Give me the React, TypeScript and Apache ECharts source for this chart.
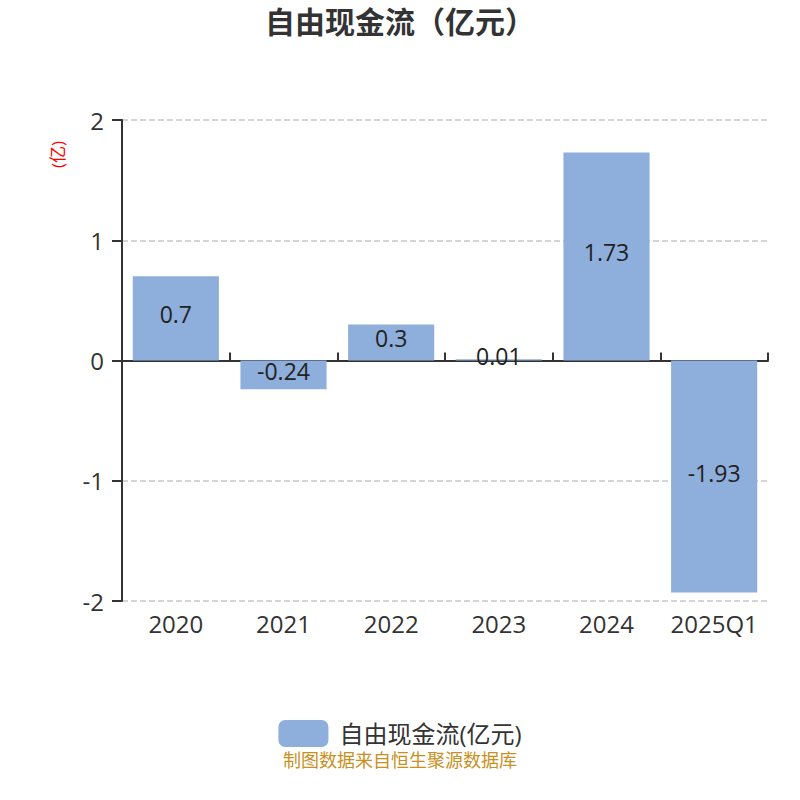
import React, { useEffect, useRef } from "react";
import * as echarts from "echarts";

const categories = ["2020", "2021", "2022", "2023", "2024", "2025Q1"];
const values = [0.7, -0.24, 0.3, 0.01, 1.73, -1.93];
const seriesName = "自由现金流(亿元)";
const titleText = "自由现金流（亿元）";
const unitText = "(亿)";
const footerText = "制图数据来自恒生聚源数据库";

export default function App() {
  const ref = useRef<HTMLDivElement>(null);
  useEffect(() => {
    if (!ref.current) return;
    const chart = echarts.init(ref.current, null, { renderer: "svg" });
    const font = "'Open Sans', 'Noto Sans CJK SC', sans-serif";
    chart.setOption({
      animation: false,
      textStyle: { fontFamily: font },
      title: {
        text: titleText,
        left: "center",
        top: 1,
        textStyle: { fontSize: 30, fontWeight: "bold", color: "#333", fontFamily: font },
      },
      grid: { left: 122, right: 32, top: 120, bottom: 199 },
      legend: {
        top: 715,
        left: "center",
        itemWidth: 50,
        itemHeight: 27,
        itemGap: 10,
        textStyle: { fontSize: 24, color: "#333", fontFamily: font, padding: [0, 0, 0, 6] },
        data: [seriesName],
      },
      xAxis: [
        {
          type: "category",
          data: categories,
          position: "bottom",
          axisLine: { show: false, onZero: false },
          axisTick: { show: false },
          axisLabel: { fontSize: 24, color: "#333", margin: 10, interval: 0 },
        },
        {
          type: "category",
          data: categories,
          axisLine: { show: true, onZero: true, lineStyle: { color: "#333", width: 2 } },
          axisTick: { show: true, length: 8, lineStyle: { color: "#333", width: 2 } },
          axisLabel: { show: false },
        },
      ],
      yAxis: {
        type: "value",
        min: -2,
        max: 2,
        interval: 1,
        axisLine: { show: true, lineStyle: { color: "#333", width: 2 } },
        axisTick: { show: true, length: 10, lineStyle: { color: "#333", width: 2 } },
        axisLabel: { fontSize: 24, color: "#333", margin: 18 },
        splitLine: { show: true, lineStyle: { type: "dashed", color: "#c8c8c8", width: 1.5 } },
      },
      graphic: [
        {
          type: "text",
          x: 49,
          y: 168,
          rotation: Math.PI / 2,
          style: { text: unitText, fill: "#ff0000", fontSize: 17, fontFamily: font },
        },
        {
          type: "text",
          left: "center",
          top: 751,
          style: { text: footerText, fill: "#c8901e", fontSize: 18, fontFamily: font },
        },
      ],
      series: [
        {
          name: seriesName,
          type: "bar",
          xAxisIndex: 0,
          data: values,
          barWidth: "80%",
          itemStyle: { color: "#8eaedb" },
          label: {
            show: true,
            position: "inside",
            offset: [0, -4],
            fontSize: 23,
            color: "#222",
            fontFamily: font,
          },
        },
      ],
    });
    return () => chart.dispose();
  }, []);
  return (
    <div
      ref={ref}
      style={{ position: "absolute", left: 0, top: 0, width: 800, height: 800 }}
    />
  );
}
